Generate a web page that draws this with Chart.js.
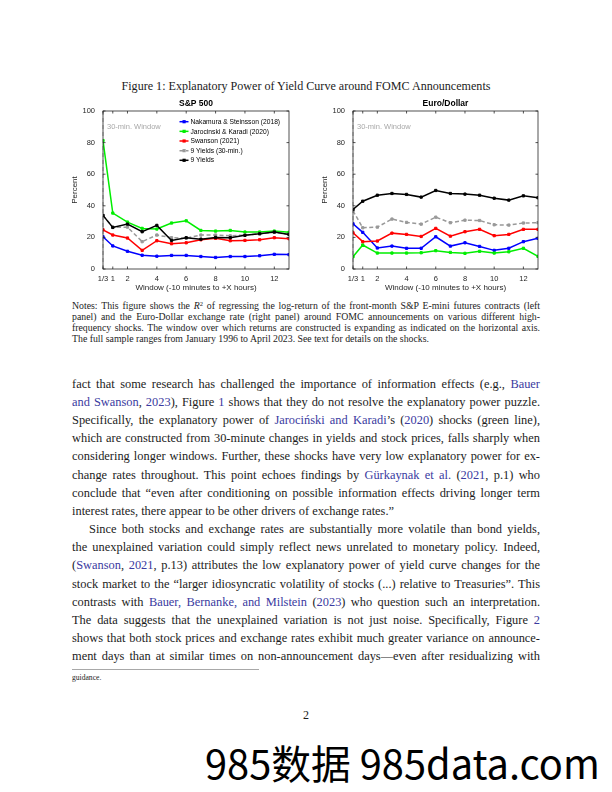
<!DOCTYPE html>
<html>
<head>
<meta charset="utf-8">
<script src="https://cdn.jsdelivr.net/npm/chart.js@4.4.0/dist/chart.umd.min.js"></script>
<style>
  body { margin: 0; background: #fff; }
  #page { position: relative; width: 612px; height: 792px; overflow: hidden; font-family: "Liberation Serif", serif; color: #1c1c1c; }
  .ln { position: absolute; left: 72px; white-space: nowrap; font-size: 12px; line-height: 12px; }
  .nt { font-size: 9px; line-height: 9px; }
  .c { color: #3a3aa0; }
  sup { font-size: 6.5px; line-height: 0; vertical-align: 3px; }
  .box { position: absolute; }
</style>
</head>
<body>
<div id="page">
  <div id="caption" class="ln" style="left:0;width:612px;text-align:center;top:80px;font-size:11.5px;">Figure 1: Explanatory Power of Yield Curve around FOMC Announcements</div>

  <div class="box" style="left:60px;top:95px;width:240px;height:200px;"><canvas id="spChart"></canvas></div>
  <div class="box" style="left:310px;top:95px;width:240px;height:200px;"><canvas id="fxChart"></canvas></div>

  <div class="ln nt j">Notes: This figure shows the <i>R</i><sup>2</sup> of regressing the log-return of the front-month S&amp;P E-mini futures contracts (left</div>
  <div class="ln nt j">panel) and the Euro-Dollar exchange rate (right panel) around FOMC announcements on various different high-</div>
  <div class="ln nt j">frequency shocks. The window over which returns are constructed is expanding as indicated on the horizontal axis.</div>
  <div class="ln nt last">The full sample ranges from January 1996 to April 2023. See text for details on the shocks.</div>

  <div class="ln bd j">fact that some research has challenged the importance of information effects (e.g., <span class="c">Bauer</span></div>
  <div class="ln bd j"><span class="c">and Swanson</span>, <span class="c">2023</span>), Figure <span class="c">1</span> shows that they do not resolve the explanatory power puzzle.</div>
  <div class="ln bd j">Specifically, the explanatory power of <span class="c">Jarociński and Karadi</span>’s (<span class="c">2020</span>) shocks (green line),</div>
  <div class="ln bd j">which are constructed from 30-minute changes in yields and stock prices, falls sharply when</div>
  <div class="ln bd j">considering longer windows. Further, these shocks have very low explanatory power for ex-</div>
  <div class="ln bd j">change rates throughout. This point echoes findings by <span class="c">Gürkaynak et al.</span> (<span class="c">2021</span>, p.1) who</div>
  <div class="ln bd j">conclude that “even after conditioning on possible information effects driving longer term</div>
  <div class="ln bd last">interest rates, there appear to be other drivers of exchange rates.”</div>
  <div class="ln bd j" style="padding-left:17px;">Since both stocks and exchange rates are substantially more volatile than bond yields,</div>
  <div class="ln bd j">the unexplained variation could simply reflect news unrelated to monetary policy. Indeed,</div>
  <div class="ln bd j">(<span class="c">Swanson</span>, <span class="c">2021</span>, p.13) attributes the low explanatory power of yield curve changes for the</div>
  <div class="ln bd j">stock market to the “larger idiosyncratic volatility of stocks (...) relative to Treasuries”. This</div>
  <div class="ln bd j">contrasts with <span class="c">Bauer, Bernanke, and Milstein</span> (<span class="c">2023</span>) who question such an interpretation.</div>
  <div class="ln bd j">The data suggests that the unexplained variation is not just noise. Specifically, Figure <span class="c">2</span></div>
  <div class="ln bd j">shows that both stock prices and exchange rates exhibit much greater variance on announce-</div>
  <div class="ln bd j">ment days than at similar times on non-announcement days—even after residualizing with</div>

  <div style="position:absolute;left:72px;top:669px;width:187px;height:1px;background:#a8a8a8;"></div>
  <div class="ln" style="top:673.5px;font-size:7.6px;line-height:7.6px;">guidance.</div>
  <div class="ln" style="left:0;width:612px;text-align:center;top:709px;">2</div>
  <div id="mark" style="position:absolute;left:205px;top:737px;white-space:nowrap;font-family:'Noto Sans CJK SC','Noto Sans',sans-serif;font-size:40px;line-height:50px;color:#000;">985数据 985data.com</div>
</div>

<script>
// windows: -10 minutes to +X hours
const hours = [1/3, 1, 2, 3, 4, 5, 6, 7, 8, 9, 10, 11, 12, 13];
const seriesLabels = ['Nakamura & Steinsson (2018)', 'Jarocinski & Karadi (2020)', 'Swanson (2021)', '9 Yields (30-min.)', '9 Yields'];

// S&P 500, percent
const spNakamura   = [20.4, 14.6, 11.2, 8.7, 8.1, 8.6, 8.6, 7.9, 7.3, 7.9, 7.9, 8.4, 9.3, 9.1];
const spJarocinski = [81.3, 35.4, 29.7, 25.7, 25.3, 29.1, 30.5, 24.4, 24.0, 24.4, 23.4, 23.4, 24.0, 23.2];
const spSwanson    = [24.8, 21.5, 19.6, 11.8, 17.9, 16.0, 16.6, 18.5, 19.4, 17.9, 18.1, 18.5, 19.8, 19.2];
const spYields30   = [33.9, 26.5, 26.5, 17.3, 21.5, 19.8, 19.5, 21.5, 21.5, 21.0, 21.5, 22.3, 23.2, 21.9];
const spYields     = [33.9, 26.3, 28.4, 23.6, 27.6, 18.1, 19.8, 18.9, 20.0, 19.8, 21.3, 22.3, 23.4, 21.9];

// Euro/Dollar, percent
const fxNakamura   = [28.6, 23.2, 13.3, 14.5, 13.1, 13.1, 20.4, 14.5, 16.6, 14.3, 11.8, 13.1, 17.3, 19.4];
const fxJarocinski = [7.8, 15.2, 10.1, 10.1, 10.1, 10.3, 11.6, 10.5, 9.9, 11.2, 10.1, 10.9, 13.1, 8.0];
const fxSwanson    = [22.9, 17.3, 17.7, 22.7, 21.9, 20.6, 25.7, 20.8, 23.6, 25.1, 21.1, 21.9, 25.1, 25.1];
const fxYields30   = [36.8, 26.1, 26.5, 31.6, 29.5, 28.4, 32.8, 29.3, 30.9, 30.7, 28.0, 27.8, 29.1, 29.3];
const fxYields     = [37.7, 42.9, 46.7, 47.8, 47.2, 45.5, 49.7, 47.8, 47.4, 46.7, 44.8, 43.6, 46.3, 45.1];

const xTicks = [1/3, 1, 2, 4, 6, 8, 10, 12];
const xTickLabels = ['1/3', '1', '2', '4', '6', '8', '10', '12'];
const yTicks = [0, 20, 40, 60, 80, 100];
const windowMark = 1/3;
const windowLabel = '30-min. Window';

const colors = ['#0000ff', '#00ee00', '#ff0000', '#999999', '#000000'];
const axisColor = '#262626';
const sans = '"Liberation Sans", Arial, sans-serif';

function makeSets(series) {
    return series.map((vals, i) => ({
        label: seriesLabels[i],
        data: vals.map((v, j) => ({ x: hours[j], y: v })),
        borderColor: colors[i],
        backgroundColor: colors[i],
        pointBackgroundColor: colors[i],
        pointBorderColor: colors[i],
        borderWidth: 1.5,
        borderDash: i === 3 ? [4, 2.5] : [],
        pointStyle: 'rect',
        pointRadius: 1.6,
        pointBorderWidth: 1,
        order: 4 - i // black drawn on top
    }));
}

// MATLAB-like box, inward ticks, title, window marker and legend
const matlabAxes = {
    id: 'matlabAxes',
    beforeDatasetsDraw(chart) {
        const { ctx, chartArea: a, scales: { x } } = chart;
        const px = x.getPixelForValue(windowMark);
        ctx.save();
        ctx.strokeStyle = '#a8a8a8';
        ctx.lineWidth = 1;
        ctx.setLineDash([4, 3]);
        ctx.beginPath();
        ctx.moveTo(px, a.top);
        ctx.lineTo(px, a.bottom);
        ctx.stroke();
        ctx.fillStyle = '#a8a8a8';
        ctx.font = '7.5px ' + sans;
        ctx.textBaseline = 'middle';
        ctx.fillText(windowLabel, px + 4, a.top + 16);
        ctx.restore();
    },
    afterDraw(chart, args, opts) {
        const { ctx, chartArea: a, scales: { x, y } } = chart;
        ctx.save();
        ctx.strokeStyle = axisColor;
        ctx.lineWidth = 0.8;
        ctx.strokeRect(a.left, a.top, a.right - a.left, a.bottom - a.top);
        ctx.beginPath();
        xTicks.forEach(v => {
            const p = x.getPixelForValue(v);
            ctx.moveTo(p, a.bottom); ctx.lineTo(p, a.bottom - 2.5);
            ctx.moveTo(p, a.top); ctx.lineTo(p, a.top + 2.5);
        });
        yTicks.forEach(v => {
            const p = y.getPixelForValue(v);
            ctx.moveTo(a.left, p); ctx.lineTo(a.left + 2.5, p);
            ctx.moveTo(a.right, p); ctx.lineTo(a.right - 2.5, p);
        });
        ctx.stroke();

        ctx.fillStyle = '#000';
        ctx.font = 'bold 8.5px ' + sans;
        ctx.textAlign = 'center';
        ctx.textBaseline = 'middle';
        ctx.fillText(opts.title, (a.left + a.right) / 2, 9);

        if (opts.legend) {
            ctx.font = '6.7px ' + sans;
            ctx.textAlign = 'left';
            chart.data.datasets.forEach((ds, i) => {
                const ly = 26.7 + i * 9.65;
                ctx.strokeStyle = ds.borderColor;
                ctx.fillStyle = ds.borderColor;
                ctx.lineWidth = 1.5;
                ctx.setLineDash(ds.borderDash);
                ctx.beginPath();
                ctx.moveTo(119.5, ly); ctx.lineTo(128.5, ly);
                ctx.stroke();
                ctx.setLineDash([]);
                ctx.fillRect(122.5, ly - 1.6, 3.2, 3.2);
                ctx.fillStyle = '#000';
                ctx.fillText(ds.label, 130.5, ly + 0.3);
            });
        }
        ctx.restore();
    }
};

function makeChart(id, series, title, legend, rightPad) {
    new Chart(document.getElementById(id), {
        type: 'line',
        data: { datasets: makeSets(series) },
        options: {
            responsive: true,
            maintainAspectRatio: false,
            animation: false,
            layout: { padding: { top: 16, right: rightPad, left: 0, bottom: 0 } },
            plugins: {
                legend: { display: false },
                tooltip: { enabled: false },
                matlabAxes: { title: title, legend: legend }
            },
            scales: {
                x: {
                    type: 'linear',
                    min: 1/3,
                    max: 13,
                    afterBuildTicks: (s) => { s.ticks = xTicks.map(v => ({ value: v })); },
                    afterFit: (s) => { s.height = 26; },
                    grid: { display: false, drawTicks: false },
                    border: { display: false },
                    ticks: {
                        autoSkip: false, maxRotation: 0, padding: 5,
                        color: axisColor, font: { family: sans, size: 7.5 },
                        callback: (v, i) => xTickLabels[i]
                    },
                    title: {
                        display: true, text: 'Window (-10 minutes to +X hours)',
                        color: axisColor, font: { family: sans, size: 8 },
                        padding: { top: 0, bottom: 2 }
                    }
                },
                y: {
                    min: 0,
                    max: 100,
                    afterBuildTicks: (s) => { s.ticks = yTicks.map(v => ({ value: v })); },
                    afterFit: (s) => { s.width = 43; },
                    grid: { display: false, drawTicks: false },
                    border: { display: false },
                    ticks: { padding: 8, color: axisColor, font: { family: sans, size: 7.5 } },
                    title: {
                        display: true, text: 'Percent',
                        color: axisColor, font: { family: sans, size: 8 },
                        padding: { top: 10, bottom: 0 }
                    }
                }
            }
        },
        plugins: [matlabAxes]
    });
}

makeChart('spChart', [spNakamura, spJarocinski, spSwanson, spYields30, spYields], 'S&P 500', true, 11);
makeChart('fxChart', [fxNakamura, fxJarocinski, fxSwanson, fxYields30, fxYields], 'Euro/Dollar', false, 12);

// lay out the text lines and justify them to the 468px text width
function setLines(sel, firstCenter, step, size, xCenter) {
    const els = Array.from(document.querySelectorAll(sel));
    els.forEach((el, i) => {
        el.style.fontSize = size + 'px';
        el.style.lineHeight = size + 'px';
        el.style.top = (firstCenter + step * i - xCenter * size) + 'px';
    });
    return els;
}
function fitFont(els, base, target) {
    const ratios = els.filter(e => e.classList.contains('j')).map(e => target / e.getBoundingClientRect().width);
    ratios.sort((a, b) => a - b);
    return base * ratios[Math.floor(ratios.length / 2)];
}
function justify(els) {
    els.forEach(el => {
        if (!el.classList.contains('j')) return;
        const w = el.getBoundingClientRect().width;
        const n = el.textContent.trim().split(/\s+/).length - 1;
        el.style.wordSpacing = ((468 - w) / n) + 'px';
    });
}
let body = setLines('.bd', 385.4, 18.16, 12, 0.61);
const bodySize = Math.min(12.4, fitFont(body, 12, 460));
body = setLines('.bd', 385.4, 18.16, bodySize, 0.61);
justify(body);

let notes = setLines('.nt', 307.3, 10.9, 9, 0.61);
const noteSize = Math.min(9.8, fitFont(notes, 9, 462));
notes = setLines('.nt', 307.3, 10.9, noteSize, 0.61);
justify(notes);

const cap = document.getElementById('caption');
const capSpan = document.createElement('span');
capSpan.textContent = cap.textContent;
cap.textContent = '';
cap.appendChild(capSpan);
const capSize = 11.5 * 369 / capSpan.getBoundingClientRect().width;
cap.style.fontSize = capSize + 'px';
cap.style.lineHeight = capSize + 'px';
cap.style.top = (87 - 0.61 * capSize) + 'px';

const mark = document.getElementById('mark');
mark.style.fontSize = (40 * 395 / mark.getBoundingClientRect().width) + 'px';
</script>
</body>
</html>
